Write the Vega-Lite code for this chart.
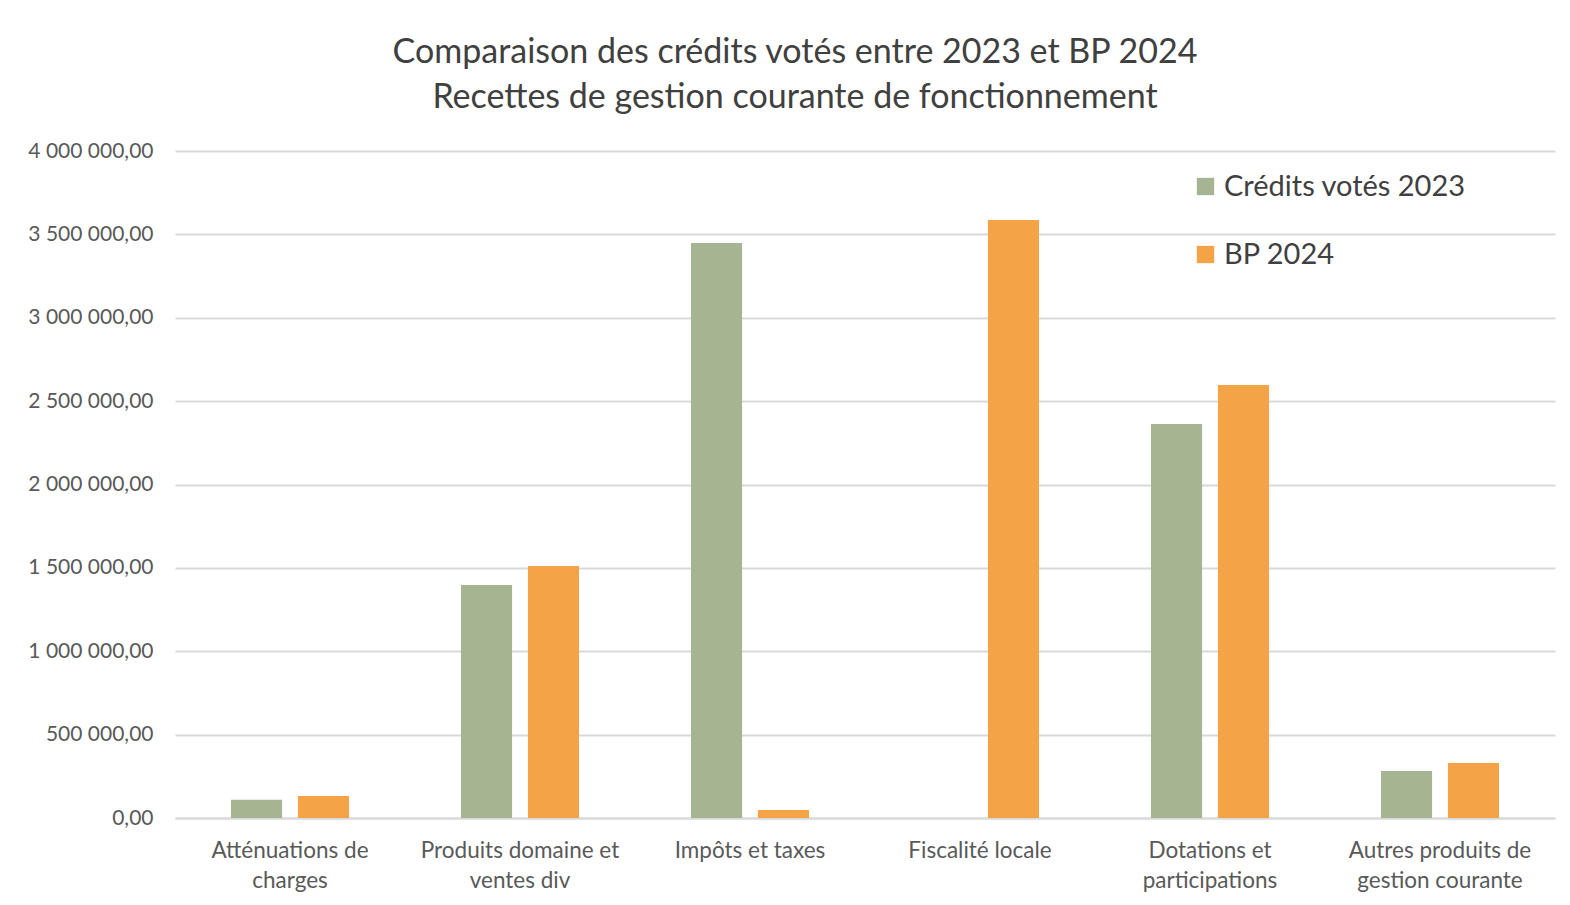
{
  "$schema": "https://vega.github.io/schema/vega-lite/v6.json",
  "autosize": "none",
  "width": 1380,
  "height": 667,
  "padding": {"left": 175, "top": 151, "right": 15, "bottom": 87},
  "background": "white",
  "title": {
    "text": ["Comparaison des crédits votés entre 2023 et BP 2024", "Recettes de gestion courante de fonctionnement"],
    "font": "Lato",
    "fontSize": 34,
    "fontWeight": "normal",
    "color": "#404040",
    "lineHeight": 45,
    "anchor": "middle",
    "dx": -70,
    "offset": 25
  },
  "data": {
    "values": [
      {"categorie": "Atténuations de charges", "serie": "Crédits votés 2023", "montant": 110000},
      {"categorie": "Atténuations de charges", "serie": "BP 2024", "montant": 132000},
      {"categorie": "Produits domaine et ventes div", "serie": "Crédits votés 2023", "montant": 1398000},
      {"categorie": "Produits domaine et ventes div", "serie": "BP 2024", "montant": 1511000},
      {"categorie": "Impôts et taxes", "serie": "Crédits votés 2023", "montant": 3448000},
      {"categorie": "Impôts et taxes", "serie": "BP 2024", "montant": 48000},
      {"categorie": "Fiscalité locale", "serie": "Crédits votés 2023", "montant": 0},
      {"categorie": "Fiscalité locale", "serie": "BP 2024", "montant": 3586000},
      {"categorie": "Dotations et participations", "serie": "Crédits votés 2023", "montant": 2363000},
      {"categorie": "Dotations et participations", "serie": "BP 2024", "montant": 2597000},
      {"categorie": "Autres produits de gestion courante", "serie": "Crédits votés 2023", "montant": 282000},
      {"categorie": "Autres produits de gestion courante", "serie": "BP 2024", "montant": 330000}
    ]
  },
  "mark": {"type": "bar"},
  "encoding": {
    "x": {
      "field": "categorie",
      "type": "nominal",
      "sort": null,
      "title": null,
      "scale": {"paddingInner": 0.487, "paddingOuter": 0.2435},
      "axis": {
        "labelAngle": 0,
        "labelFont": "Lato",
        "labelFontSize": 22.5,
        "labelColor": "#595959",
        "labelLineHeight": 30,
        "labelPadding": 32,
        "labelBaseline": "middle",
        "labelLimit": 0,
        "ticks": false,
        "domainColor": "#d9d9d9",
        "domainWidth": 2,
        "labelExpr": "datum.label == 'Atténuations de charges' ? ['Atténuations de', 'charges'] : datum.label == 'Produits domaine et ventes div' ? ['Produits domaine et', 'ventes div'] : datum.label == 'Dotations et participations' ? ['Dotations et', 'participations'] : datum.label == 'Autres produits de gestion courante' ? ['Autres produits de', 'gestion courante'] : datum.label"
      }
    },
    "xOffset": {
      "field": "serie",
      "type": "nominal",
      "sort": ["Crédits votés 2023", "BP 2024"],
      "scale": {"paddingInner": 0.237, "paddingOuter": 0}
    },
    "y": {
      "field": "montant",
      "type": "quantitative",
      "title": null,
      "scale": {"domain": [0, 4000000], "nice": false},
      "axis": {
        "values": [0, 500000, 1000000, 1500000, 2000000, 2500000, 3000000, 3500000, 4000000],
        "labelExpr": "replace(replace(format(datum.value, ',.2f'), /,/g, ' '), '.', ',')",
        "labelFont": "Lato",
        "labelFontSize": 21,
        "labelColor": "#595959",
        "labelPadding": 22,
        "ticks": false,
        "domain": false,
        "gridColor": "#d9d9d9",
        "gridWidth": 2
      }
    },
    "color": {
      "field": "serie",
      "type": "nominal",
      "sort": ["Crédits votés 2023", "BP 2024"],
      "scale": {"domain": ["Crédits votés 2023", "BP 2024"], "range": ["#A5B592", "#F4A446"]},
      "legend": {
        "title": null,
        "orient": "none",
        "legendX": 1016,
        "legendY": 21,
        "symbolType": "square",
        "symbolSize": 300,
        "symbolStrokeWidth": 0,
        "labelFont": "Lato",
        "labelFontSize": 29,
        "labelColor": "#404040",
        "labelOffset": 4,
        "labelLimit": 0,
        "rowPadding": 38
      }
    }
  },
  "config": {
    "view": {"stroke": null}
  }
}
